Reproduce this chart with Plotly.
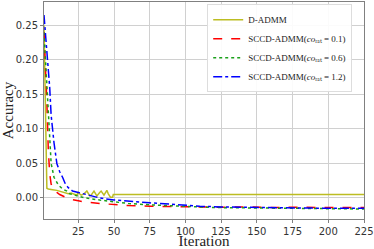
import plotly.graph_objects as go

# D-ADMM
x_d = [1, 2, 3, 4, 5, 7, 10, 13, 16, 18, 20, 22, 24, 25, 27, 29, 31, 33, 34, 36, 38, 40, 41, 43, 45, 46, 47.5, 49, 49.5, 60, 100, 150, 200, 225]
y_d = [0.25, 0.12, 0.014, 0.013, 0.013, 0.012, 0.011, 0.009, 0.008, 0.006, 0.007, 0.005, 0.004, 0.008, 0.004, 0.006, 0.01, 0.003, 0.004, 0.01, 0.003, 0.008, 0.01, 0.004, 0.011, 0.006, 0.001, 0.001, 0.005, 0.005, 0.005, 0.005, 0.005, 0.005]

# SCCD-ADMM co_rat = 0.1
x_r = [1, 2, 3, 4, 5, 6, 8, 10, 12, 16, 20, 25, 30, 40, 50, 60, 75, 90, 100, 115, 125, 140, 150, 165, 175, 190, 200, 215, 225]
y_r = [0.24, 0.2, 0.14, 0.07, 0.035, 0.02, 0.012, 0.008, 0.005, 0.001, -0.002, -0.004, -0.006, -0.008, -0.01, -0.011, -0.012, -0.0125, -0.013, -0.013, -0.0135, -0.013, -0.0135, -0.014, -0.0135, -0.014, -0.0135, -0.014, -0.014]

# SCCD-ADMM co_rat = 0.6
x_g = [1, 2, 3, 4, 5, 6, 8, 11, 14, 17, 19, 25, 30, 40, 50, 60, 75, 90, 100, 115, 125, 150, 175, 200, 225]
y_g = [0.24, 0.2, 0.16, 0.13, 0.1, 0.05, 0.03, 0.019, 0.013, 0.01, 0.006, 0.003, 0.0, -0.003, -0.006, -0.008, -0.01, -0.0115, -0.013, -0.0135, -0.014, -0.0145, -0.015, -0.0155, -0.016]

# SCCD-ADMM co_rat = 1.2
x_b = [1, 2, 3, 4, 5, 6, 7, 8, 10, 12, 14, 16, 18, 21, 25, 30, 35, 40, 50, 60, 75, 90, 100, 110, 125, 140, 150, 175, 200, 225]
y_b = [0.265, 0.24, 0.21, 0.19, 0.16, 0.12, 0.095, 0.08, 0.05, 0.038, 0.03, 0.02, 0.015, 0.01, 0.008, 0.005, 0.002, 0.0, -0.003, -0.005, -0.007, -0.009, -0.011, -0.012, -0.013, -0.0135, -0.014, -0.0145, -0.015, -0.015]

x_ticks = [25, 50, 75, 100, 125, 150, 175, 200, 225]
y_ticks = [0.0, 0.05, 0.10, 0.15, 0.20, 0.25]

def lab(v):
    return "SCCD-ADMM(<i>co</i>ᵣₐₜ = " + v + ")"

fig = go.Figure()
fig.add_trace(go.Scatter(x=x_d, y=y_d, mode="lines", name="D-ADMM",
                         line=dict(color="#bcbd22", width=1.5)))
fig.add_trace(go.Scatter(x=x_r, y=y_r, mode="lines", name=lab("0.1"),
                         line=dict(color="#ff0000", width=1.5, dash="dash")))
fig.add_trace(go.Scatter(x=x_g, y=y_g, mode="lines", name=lab("0.6"),
                         line=dict(color="#1aa01a", width=1.5, dash="dot")))
fig.add_trace(go.Scatter(x=x_b, y=y_b, mode="lines", name=lab("1.2"),
                         line=dict(color="#0000ff", width=1.5, dash="dashdot")))

fig.update_layout(
    width=374, height=249,
    margin=dict(l=44, r=10, t=2, b=30, autoexpand=False),
    paper_bgcolor="white", plot_bgcolor="white",
    font=dict(family="DejaVu Sans", size=10, color="#333"),
    showlegend=True,
    legend=dict(x=0.51, y=0.99, xanchor="left", yanchor="top",
                bgcolor="rgba(255,255,255,0.9)", bordercolor="#ddd", borderwidth=1,
                font=dict(family="Liberation Serif", size=9, color="#222"),
                tracegroupgap=0, itemwidth=30),
)
fig.update_xaxes(range=[1, 225], tickvals=x_ticks, showgrid=True, gridcolor="#d0d0d0",
                 gridwidth=1, zeroline=False, showline=True, linecolor="#808080",
                 mirror=True, ticks="outside", ticklen=3, tickcolor="#808080", automargin=False,
                 title=dict(text="Iteration", font=dict(family="Liberation Serif", size=15, color="#222"),
                            standoff=4))
fig.update_yaxes(range=[-0.0305, 0.284], tickvals=y_ticks, tickformat=".2f", showgrid=True,
                 gridcolor="#d0d0d0", gridwidth=1, zeroline=False, showline=True, automargin=False,
                 linecolor="#808080", mirror=True, ticks="outside", ticklen=3, tickcolor="#808080",
                 title=dict(text="Accuracy", font=dict(family="Liberation Serif", size=15, color="#222"),
                            standoff=4))

fig.write_html("out.html", config={"displayModeBar": False},
               post_script="document.body.style.margin='0px';document.body.style.padding='0px';")
